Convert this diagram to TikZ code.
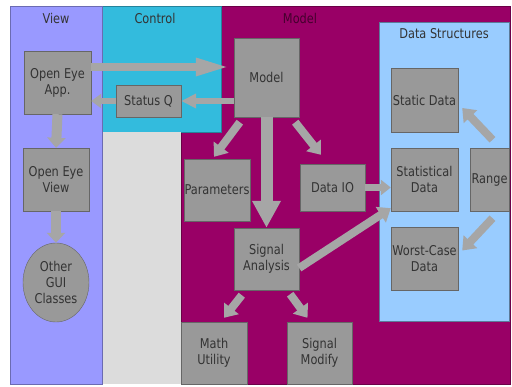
\documentclass[tikz,border=0pt]{standalone}
\usepackage{fontspec}
\setmainfont{DejaVu Sans}[FakeStretch=0.84]
\usetikzlibrary{arrows.meta,shapes.geometric}
\definecolor{viewc}{HTML}{9999FF}
\definecolor{ctrlc}{HTML}{33BBDD}
\definecolor{greyc}{HTML}{DCDCDC}
\definecolor{modc}{HTML}{990066}
\definecolor{dsc}{HTML}{99CCFF}
\definecolor{boxc}{HTML}{999999}
\definecolor{arrc}{HTML}{A6A6A6}
\definecolor{txtc}{HTML}{333333}
\begin{document}
\begin{tikzpicture}[x=1pt,y=-1pt,
  font=\fontsize{13.5}{16}\selectfont,
  box/.style={draw=black!60,fill=boxc,text=txtc,inner sep=0pt,align=center,minimum width=#1},
  box/.default=66pt,
  blk/.style={draw=arrc,line width=8pt,-{Triangle[length=12pt,width=18pt]}},
  lbl/.style={text=txtc}]
\useasboundingbox (0,0) rectangle (512,387);
\draw[draw=modc!70!black,fill=modc] (181,6) rectangle (510,384);
\draw[draw=ctrlc!70!black,fill=ctrlc] (102,6) rectangle (221,132);
\fill[greyc] (102,132) rectangle (181,384);
\draw[draw=viewc!70!black,fill=viewc] (10,6) rectangle (102,384);
\draw[draw=dsc!60!black,fill=dsc] (379,22) rectangle (509,321);
\node[lbl] (tview) at (56,18) {View}; \node[lbl] (tctrl) at (155,18) {Control};
\node[text=modc!45!black] (tmod) at (300,18) {Model}; \node[lbl] (tds) at (444,34) {Data Structures};
\node[box=67pt,minimum height=63pt] (app) at (57.5,82.5) {Open Eye\\App.};
\node[box=65pt,minimum height=32pt] (statq) at (148.5,101) {Status Q};
\node[box,minimum height=63pt] (view) at (56,179.5) {Open Eye\\View};
\node[ellipse,draw=black!60,fill=boxc,text=txtc,inner sep=0pt,align=center,minimum width=66pt,minimum height=79pt] (gui) at (56,282.5) {Other\\GUI\\Classes};
\node[box=65pt,minimum height=79pt] (model) at (266.5,77.5) {Model};
\node[box,minimum height=62pt] (params) at (217,190) {Parameters};
\node[box=65pt,minimum height=47pt] (dataio) at (332.5,187.5) {Data IO};
\node[box=65pt,minimum height=62pt] (sig) at (266.5,259) {Signal\\Analysis};
\node[box,minimum height=62pt] (math) at (214,353) {Math\\Utility};
\node[box=65pt,minimum height=62pt] (modify) at (319.5,353) {Signal\\Modify};
\node[box=67pt,minimum height=64pt] (static) at (424.5,100) {Static Data};
\node[box=67pt,minimum height=63pt] (stat) at (424.5,179.5) {Statistical\\Data};
\node[box=39pt,minimum height=63pt] (range) at (489.5,179.5) {Range};
\node[box=67pt,minimum height=63pt] (worst) at (424.5,258.5) {Worst-Case\\Data};
\coordinate (a1) at ([yshift=15.5pt]app.east);
\draw[blk,-{Triangle[length=35pt,width=16pt]}] (a1) -- ([xshift=-3pt]a1 -| model.west);
\draw[blk,line width=6pt,-{Triangle[length=15pt,width=14pt]}] (statq.east -| model.west) -- (statq.east);
\draw[blk,line width=6pt,-{Triangle[length=10pt,width=14pt]}] (statq.west) -- (statq.west -| app.east);
\draw[blk,line width=10pt,-{Triangle[length=10pt,width=18pt]}] (app.south) -- (view.north);
\draw[blk,line width=10pt,-{Triangle[length=10pt,width=18pt]}] (view.south) -- (gui.north);
\draw[blk] ([xshift=6pt,yshift=-5pt]model.south west) -- ([xshift=-3pt,yshift=2pt]params.north);
\draw[blk,line width=12pt,-{Triangle[length=27pt,width=27pt]}] (model.south) -- (sig.north);
\draw[blk] ([xshift=-4pt,yshift=-5pt]model.south east) -- ([xshift=-11.5pt,yshift=9pt]dataio.north);
\draw[blk,line width=7pt,-{Triangle[length=10pt,width=15pt]}] (dataio.east) -- (dataio.east -| stat.west);
\draw[blk] ([yshift=-9pt]sig.east) -- ([yshift=3pt]stat.south west);
\draw[blk] ([xshift=8pt,yshift=-5pt]sig.south west) -- ([xshift=10pt,yshift=4pt]math.north);
\draw[blk] ([xshift=-9pt,yshift=-4pt]sig.south east) -- ([xshift=-12pt,yshift=4pt]modify.north);
\draw[blk] ([xshift=3pt,yshift=8pt]range.north) -- ([xshift=4pt,yshift=-8pt]static.east);
\draw[blk] ([xshift=3pt,yshift=-7pt]range.south) -- ([xshift=4pt,yshift=8pt]worst.east);
\end{tikzpicture}
\end{document}
